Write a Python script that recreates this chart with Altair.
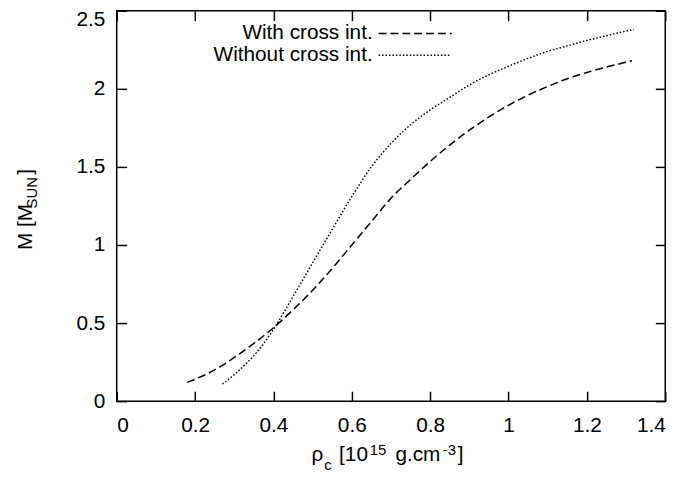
import altair as alt
import pandas as pd

# ---- data ----
rho_with = [0.18, 0.25, 0.30, 0.35, 0.40, 0.45, 0.50, 0.55, 0.60, 0.65, 0.70, 0.75,
            0.80, 0.85, 0.90, 0.95, 1.00, 1.05, 1.10, 1.15, 1.20, 1.25, 1.30, 1.315]
m_with = [0.12, 0.20, 0.28, 0.37, 0.47, 0.585, 0.71, 0.85, 1.00, 1.15, 1.30, 1.42,
          1.535, 1.64, 1.735, 1.82, 1.895, 1.96, 2.015, 2.065, 2.105, 2.14, 2.17, 2.18]

rho_without = [0.27, 0.30, 0.33, 0.36, 0.40, 0.45, 0.50, 0.55, 0.60, 0.65, 0.70, 0.75,
               0.80, 0.85, 0.90, 0.95, 1.00, 1.05, 1.10, 1.15, 1.20, 1.25, 1.30, 1.32]
m_without = [0.11, 0.17, 0.24, 0.32, 0.46, 0.67, 0.885, 1.10, 1.31, 1.50, 1.65, 1.77,
             1.865, 1.945, 2.025, 2.09, 2.145, 2.195, 2.24, 2.275, 2.31, 2.34, 2.37, 2.38]

series_names = ["With cross int.", "Without cross int."]
x_ticks = [0, 0.2, 0.4, 0.6, 0.8, 1.0, 1.2, 1.4]
y_ticks = [0, 0.5, 1.0, 1.5, 2.0, 2.5]

FONT = "Liberation Sans"
FS = 21
SUB = 15
W, H = 555, 395
TICK = 10

df = pd.concat([
    pd.DataFrame({"rho": rho_with, "M": m_with, "series": series_names[0]}),
    pd.DataFrame({"rho": rho_without, "M": m_without, "series": series_names[1]}),
])

xs = alt.Scale(domain=[0, 1.4], nice=False, zero=False)
ys = alt.Scale(domain=[0, 2.5], nice=False, zero=False)

def axis(orient, labels=True, pad=0, **extra):
    kw = dict(values=x_ticks if orient in ("bottom", "top") else y_ticks,
              orient=orient, offset=-TICK, tickSize=TICK, domain=False, grid=False,
              tickColor="black", tickWidth=1.5, title=None, labels=labels)
    if labels:
        kw.update(format="~g", labelFont=FONT, labelFontSize=FS, labelColor="black",
                  labelPadding=pad)
    kw.update(extra)
    return alt.Axis(**kw)

lines = alt.Chart(df).mark_line(color="black", strokeWidth=1.5, interpolate="monotone").encode(
    x=alt.X("rho:Q", scale=xs, axis=axis("bottom", pad=14)),
    y=alt.Y("M:Q", scale=ys, axis=axis(
        "left", pad=12,
        labelOffset={"condition": {"test": "datum.value >= 2.5", "value": 9}, "value": 0})),
    strokeDash=alt.StrokeDash("series:N", legend=None,
                              scale=alt.Scale(domain=series_names, range=[[8, 4], [1.5, 2]])),
    detail="series:N",
)

mirror = alt.Chart(df).mark_point(opacity=0).encode(
    x=alt.X("rho:Q", scale=xs, axis=axis("top", labels=False)),
    y=alt.Y("M:Q", scale=ys, axis=axis("right", labels=False)),
)

one = pd.DataFrame({"k": [0]})

def txt(s, x, y, size=FS, align="left", baseline="alphabetic", angle=0):
    return alt.Chart(one).mark_text(text=s, font=FONT, fontSize=size, align=align,
                                    baseline=baseline, angle=angle, color="black").encode(
        x=alt.value(x), y=alt.value(y))

# x-axis title: rho_c [10^15 g.cm^-3]
xt = [
    txt("\u03c1", 197, 456),
    txt("c", 210, 465, SUB),
    txt("[10", 225, 456),
    txt("15", 256, 449, SUB),
    txt("g.cm", 282, 456),
    txt("-3", 330, 449, SUB),
    txt("]", 345, 456),
]
# y-axis title: M [M_SUN]
yt = [
    txt("M [M", -86, 242, angle=270),
    txt("SUN", -81, 200, SUB, angle=270),
    txt("]", -86, 166, angle=270),
]
# legend
leg = [
    txt(series_names[0], 259, 23, align="right", baseline="middle"),
    txt(series_names[1], 259, 45, align="right", baseline="middle"),
    alt.Chart(one).mark_rule(color="black", strokeWidth=1.5, strokeDash=[8, 4]).encode(
        x=alt.value(265), x2=alt.value(339), y=alt.value(23)),
    alt.Chart(one).mark_rule(color="black", strokeWidth=1.5, strokeDash=[1.5, 2]).encode(
        x=alt.value(265), x2=alt.value(337), y=alt.value(45)),
]

chart = alt.layer(lines, mirror, *xt, *yt, *leg).resolve_axis(
    x="independent", y="independent"
).properties(
    width=W, height=H,
    autosize=alt.AutoSizeParams(type="none"),
    padding={"left": 110, "top": 0, "right": 21, "bottom": 79},
    background="white",
).configure_view(stroke="black", strokeWidth=1.5)

chart.save("out.html", embed_options={"renderer": "svg", "actions": False})
